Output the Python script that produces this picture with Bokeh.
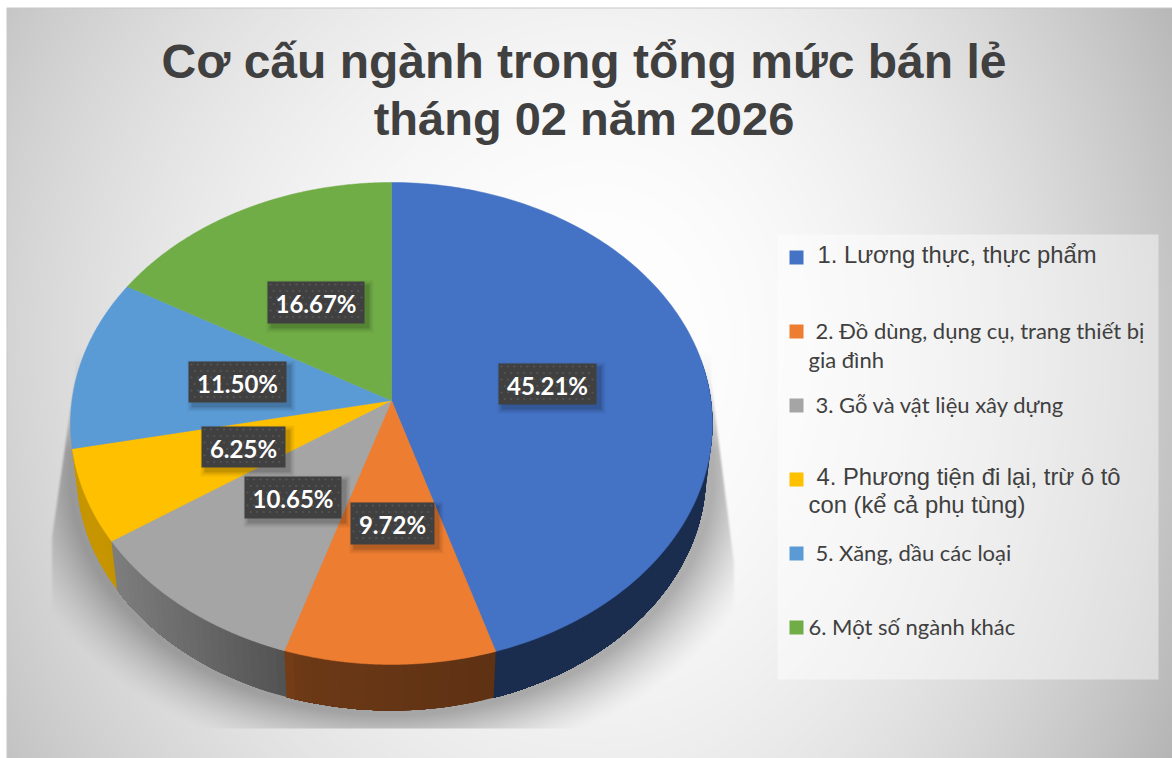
import numpy as np
from bokeh.plotting import figure
from bokeh.models import Range1d
from bokeh.core.properties import value
from bokeh.embed import file_html
from bokeh.resources import INLINE

# ---- data ----
categories = ["1. Lương thực, thực phẩm", "2. Đồ dùng, dụng cụ, trang thiết bị gia đình",
              "3. Gỗ và vật liệu xây dựng", "4. Phương tiện đi lại, trừ ô tô con (kể cả phụ tùng)",
              "5. Xăng, dầu các loại", "6. Một số ngành khác"]
shares = [45.21, 9.72, 10.65, 6.25, 11.50, 16.67]
share_labels = ["45.21%", "9.72%", "10.65%", "6.25%", "11.50%", "16.67%"]
colors = ["#4472C4", "#ED7D31", "#A5A5A5", "#FFC000", "#5B9BD5", "#70AD47"]
title_lines = ["Cơ cấu ngành trong tổng mức bán lẻ", "tháng 02 năm 2026"]

# ---- layout ----
L, T, W, H = 0, 0, 1172, 758
R_, B_ = L + W, T + H
CX, CY = 391.0, 400.0
K, RX, RY = 0.0954, 319.5, 238.8
WALL_S, WALL_Y = 0.98, 451.3
BASE_SHIFT = 0.36  # em offset of the alphabetic baseline in the svg output
def Y(y):
    return 758 - np.asarray(y, dtype=float)

def top_pt(theta):
    u, v = np.sin(theta), -np.cos(theta)
    d = 1 - K * v
    return CX + RX * u / d, CY + RY * v / d

def low_pt(theta):
    x, y = top_pt(theta)
    return CX + (x - CX) * WALL_S, WALL_Y + (y - CY) * WALL_S

# ---- background with gradient and pie shadow ----
xx, yy = np.meshgrid(np.arange(L, R_) + .5, np.arange(B_, T, -1) - .5)
gdx = np.where(xx > 600, (xx - 600) * 1.2, xx - 600)
gdy = np.where(yy > 340, (yy - 340) * 0.88, yy - 340)
d = np.sqrt(gdx ** 2 + gdy ** 2)
bg = 255 - 60 * (d / 700) ** 2
r = np.sqrt(((xx - 391) / 322) ** 2 + ((yy - 472) / 243) ** 2)
dist = np.clip((r - 1) * 290, 0, None)
sh = np.clip(1 - dist / 62, 0, 1) ** 1.4
clip_l = np.clip(73 - (yy - 377) * 23 / 160, 50, 73)
clip_r = np.clip(712 + (yy - 380) * 21 / 167, 712, 735)
fade = np.clip((yy - 350) / 100, 0, 1)
sh = sh * fade * np.clip((xx - clip_l) / 3, 0, 1) * np.clip((clip_r - xx) / 3, 0, 1) * (yy < 728)
img = bg * (1 - 0.30 * sh)
img[(xx >= 6) & (xx < 7.5) & (yy >= 7)] = 200
img[(yy >= 7) & (yy < 8.5) & (xx >= 6)] = 200
img[(xx < 6) | (yy < 7)] = 255
img = np.clip(img, 0, 255).astype(np.uint32)
rgba = (255 << 24) | (img << 16) | (img << 8) | img

p = figure(width=W, height=H, x_range=Range1d(L, R_), y_range=Range1d(758 - B_, 758 - T),
           output_backend="svg", toolbar_location=None, x_axis_location=None, y_axis_location=None,
           min_border=0, outline_line_color=None, background_fill_color="white")
p.grid.visible = False
p.image_rgba(image=[rgba.astype(np.uint32)], x=L, y=758 - B_, dw=W, dh=H)

# ---- side walls ----
fr = np.cumsum([0] + shares) / sum(shares)
angles = fr * 2 * np.pi
def rgb(c):
    return np.array([int(c[i:i + 2], 16) for i in (1, 3, 5)], dtype=float)
def shade(x):
    return float(np.interp(x, [100, 285, 300, 490], [.78, .50, .46, .40]))
def hexc(v):
    return "#%02x%02x%02x" % tuple(int(i) for i in v)
wx, wy, wc = [], [], []
lo, hi = np.radians(80), angles[4]
for a0, a1, c in zip(angles[:-1], angles[1:], colors):
    a0c, a1c = max(a0, lo), min(a1, hi)
    if a1c <= a0c:
        continue
    n = max(2, int(np.degrees(a1c - a0c) / 1.5))
    ts = np.linspace(a0c, a1c, n + 1)
    for i in range(n):
        # every piece runs to the end of its slice, so the next one covers it without a seam
        t0 = ts[i]
        tail = ts[i:]
        xt, yt = top_pt(tail); xb, yb = low_pt(tail)
        wc.append(hexc(rgb(c) * shade((xt[0] + xt[1]) / 2)))
        wx.append(list(xt) + list(xb[::-1])); wy.append(list(Y(np.r_[yt, yb[::-1]])))
p.patches(wx, wy, fill_color=wc, line_color=None)

# ---- top face ----
sx, sy = [], []
for a0, a1 in zip(angles[:-1], angles[1:]):
    ts = np.linspace(a0, a1, 160)
    xs, ys = top_pt(ts)
    sx.append([CX] + list(xs)); sy.append(list(Y(np.r_[CY, ys])))
p.patches(sx, sy, fill_color=colors, line_color=colors, line_width=0.5)

# ---- title ----
for line, by, size in zip(title_lines, [78, 135], [48, 47]):
    p.text([583.5], Y([by - BASE_SHIFT * size]), text=[line], text_align="center", text_baseline="alphabetic",
           text_color="#404040", text_font=value("Liberation Sans"), text_font_style="bold",
           text_font_size=f"{size}px")

# ---- legend ----
p.quad(left=[777], right=[1158], top=Y([234]), bottom=Y([679]), fill_color="white", fill_alpha=.45, line_color=None)
mark_top = [250, 324, 398, 472, 546, 620]
p.quad(left=[789] * 6, right=[803] * 6, top=Y(mark_top), bottom=Y(np.array(mark_top) + 14),
       fill_color=colors, line_color=None)
ARIAL, BODY = "Liberation Sans", "Lato"
legend_lines = [
    ("1. Lương thực, thực phẩm", 817, 263, ARIAL, 23.8),
    ("2. Đồ dùng, dụng cụ, trang thiết bị", 815, 338, BODY, 22),
    ("gia đình", 808, 367, BODY, 22),
    ("3. Gỗ và vật liệu xây dựng", 815, 412, BODY, 22),
    ("4. Phương tiện đi lại, trừ ô tô", 816, 485, ARIAL, 23.8),
    ("con (kể cả phụ tùng)", 808, 513, ARIAL, 23.8),
    ("5. Xăng, dầu các loại", 815, 560, BODY, 22),
    ("6. Một số ngành khác", 808, 634, BODY, 22),
]
for t, x, by, f, s in legend_lines:
    p.text([x], Y([by - BASE_SHIFT * s]), text=[t], text_align="left", text_baseline="alphabetic",
           text_color="#404040", text_font=value(f), text_font_size=f"{s}px")

# ---- data labels ----
boxes = [(498, 596, 363, 404), (350, 434, 502, 544), (244, 341, 476, 518),
         (201, 285, 426, 467), (188, 286, 361, 402), (267, 364, 281, 323)]
for grow, alpha in [(5, .05), (3, .08), (1, .12)]:
    p.quad(left=[b[0] + 4 - grow for b in boxes], right=[b[1] + 4 + grow for b in boxes],
           top=Y([b[2] + 4 - grow for b in boxes]), bottom=Y([b[3] + 4 + grow for b in boxes]),
           fill_color="black", fill_alpha=alpha, line_color=None)
p.quad(left=[b[0] for b in boxes], right=[b[1] for b in boxes], top=Y([b[2] for b in boxes]),
       bottom=Y([b[3] for b in boxes]), fill_color="#404040", line_color=None)
dx, dy = [], []
for b in boxes:
    for i, gy in enumerate(np.arange(b[2] + 3, b[3] - 1, 6.5)):
        for gx in np.arange(b[0] + 3 + (i % 2) * 3.25, b[1] - 1, 6.5):
            dx.append(gx); dy.append(gy)
p.scatter(dx, Y(dy), size=2.2, fill_color="#565656", line_color=None)
p.text([(b[0] + b[1]) / 2 for b in boxes], Y([(b[2] + b[3]) / 2 + 1 for b in boxes]), text=share_labels,
       text_align="center", text_baseline="middle", text_color="white",
       text_font=value("Lato"), text_font_style="bold", text_font_size="24px")

open("out.html", "w").write(file_html(p, INLINE))
